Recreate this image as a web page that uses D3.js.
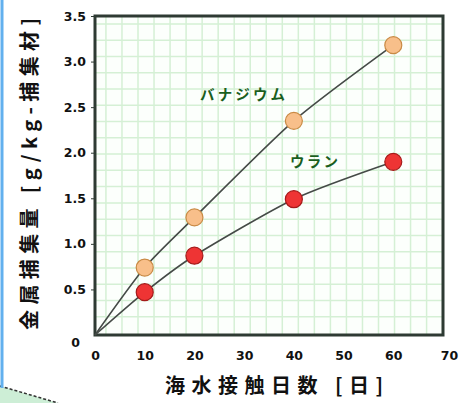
<!DOCTYPE html>
<html><head><meta charset="utf-8">
<script src="https://cdn.jsdelivr.net/npm/d3@7"></script>
<style>body{margin:0;background:#fff}svg{display:block}</style>
</head><body>
<script>
const days = [0, 10, 20, 40, 60];
const vanadium = [0, 0.74, 1.29, 2.35, 3.18];
const uranium = [0, 0.47, 0.87, 1.49, 1.9];
const xTicks = [0, 10, 20, 30, 40, 50, 60, 70];
const yTicks = [0.5, 1.0, 1.5, 2.0, 2.5, 3.0, 3.5];
const seriesNames = ["バナジウム", "ウラン"];
const xTitle = "海水接触日数 [日]";
const yTitle = "金属捕集量 [g/kg-捕集材]";

const W = 460, H = 403;
const svg = d3.select("body").append("svg").attr("width", W).attr("height", H);
const x = d3.scaleLinear().domain([0, 70]).range([95, 443]);
const y = d3.scaleLinear().domain([0, 3.5]).range([335, 16]);

// decorative left edge and bottom-left shape
svg.append("path").attr("d", "M0,386 L58,403 L0,403 Z").attr("fill", "#cdeed6");
svg.append("line").attr("x1", 0).attr("y1", 386).attr("x2", 58).attr("y2", 403)
  .attr("stroke", "#333").attr("stroke-width", 1.5).attr("stroke-dasharray", "3,2");
svg.append("line").attr("x1", 2).attr("y1", 0).attr("x2", 2).attr("y2", 388)
  .attr("stroke", "#62b0ee").attr("stroke-width", 3);

// plot background
svg.append("rect").attr("x", x(0)).attr("y", y(3.5)).attr("width", x(70) - x(0)).attr("height", y(0) - y(3.5))
  .attr("fill", "#fcfffc");

// grid
const gx = d3.range(2.2, 70, 3.225);
const gy = d3.range(0.2, 3.5, 0.1785);
svg.append("g").selectAll("line").data(gx).join("line")
  .attr("x1", d => x(d)).attr("x2", d => x(d)).attr("y1", y(0)).attr("y2", y(3.5))
  .attr("stroke", "#d5f0d5").attr("stroke-width", 1.5);
svg.append("g").selectAll("line").data(gy).join("line")
  .attr("y1", d => y(d)).attr("y2", d => y(d)).attr("x1", x(0)).attr("x2", x(70))
  .attr("stroke", "#d5f0d5").attr("stroke-width", 1.5);

// frame
svg.append("rect").attr("x", x(0)).attr("y", y(3.5)).attr("width", x(70) - x(0)).attr("height", y(0) - y(3.5))
  .attr("fill", "none").attr("stroke", "#2e3a33").attr("stroke-width", 3);

// y axis ticks/labels
const yAxis = d3.axisLeft(y).tickValues(yTicks).tickSize(3).tickFormat(d3.format(".1f"));
const ya = svg.append("g").attr("transform", `translate(${x(0) - 1},0)`).call(yAxis);
ya.select(".domain").remove();
ya.selectAll("line").attr("stroke", "#2e3a33");
ya.selectAll("text").attr("x", -8).attr("font-family", "DejaVu Sans").attr("font-weight", "bold")
  .attr("font-size", 12.5).attr("fill", "#111");
svg.append("text").attr("x", 80).attr("y", y(0) + 12).attr("text-anchor", "end")
  .attr("font-family", "DejaVu Sans").attr("font-weight", "bold").attr("font-size", 12.5).attr("fill", "#111").text("0");

// x axis labels
const xAxis = d3.axisBottom(x).tickValues(xTicks).tickSize(0).tickFormat(d3.format("d"));
const xa = svg.append("g").attr("transform", `translate(0,${y(0)})`).call(xAxis);
xa.select(".domain").remove();
xa.selectAll("text").attr("y", 16).attr("font-family", "DejaVu Sans").attr("font-weight", "bold")
  .attr("font-size", 12.5).attr("fill", "#111")
  .attr("dx", d => d === 70 ? 6 : 0);

// curves
const line = d3.line().x((d, i) => x(days[i])).y(d => y(d)).curve(d3.curveCardinal.tension(0.3));
[vanadium, uranium].forEach(s => {
  svg.append("path").attr("d", line(s)).attr("fill", "none").attr("stroke", "#454a47").attr("stroke-width", 1.6);
});

// markers
const styles = [{fill: "#f8bf8a", stroke: "#c98a45"}, {fill: "#ee3434", stroke: "#a51a1a"}];
[vanadium, uranium].forEach((s, k) => {
  svg.append("g").selectAll("circle").data(s.slice(1)).join("circle")
    .attr("cx", (d, i) => x(days[i + 1])).attr("cy", d => y(d)).attr("r", 8.5)
    .attr("fill", styles[k].fill).attr("stroke", styles[k].stroke).attr("stroke-width", 1.2);
});

// series labels
svg.append("text").attr("x", 200).attr("y", 100).attr("font-family", "Noto Sans CJK JP").attr("font-weight", "bold")
  .attr("font-size", 14.5).attr("fill", "#1a5e1e").attr("textLength", 85).attr("lengthAdjust", "spacing").text(seriesNames[0]);
svg.append("text").attr("x", 290).attr("y", 167).attr("font-family", "Noto Sans CJK JP").attr("font-weight", "bold")
  .attr("font-size", 14.5).attr("fill", "#1a5e1e").attr("textLength", 48).attr("lengthAdjust", "spacing").text(seriesNames[1]);

// titles
svg.append("text").attr("x", 274).attr("y", 393).attr("text-anchor", "middle")
  .attr("font-family", "Noto Sans CJK JP").attr("font-weight", "bold").attr("font-size", 20).attr("fill", "#111")
  .attr("textLength", 218).attr("lengthAdjust", "spacing").text(xTitle);
svg.append("text").attr("transform", "translate(37,174) rotate(-90)").attr("text-anchor", "middle")
  .attr("font-family", "Noto Sans CJK JP").attr("font-weight", "bold").attr("font-size", 20).attr("fill", "#111")
  .attr("textLength", 312).attr("lengthAdjust", "spacing").text(yTitle);
</script>
</body></html>
